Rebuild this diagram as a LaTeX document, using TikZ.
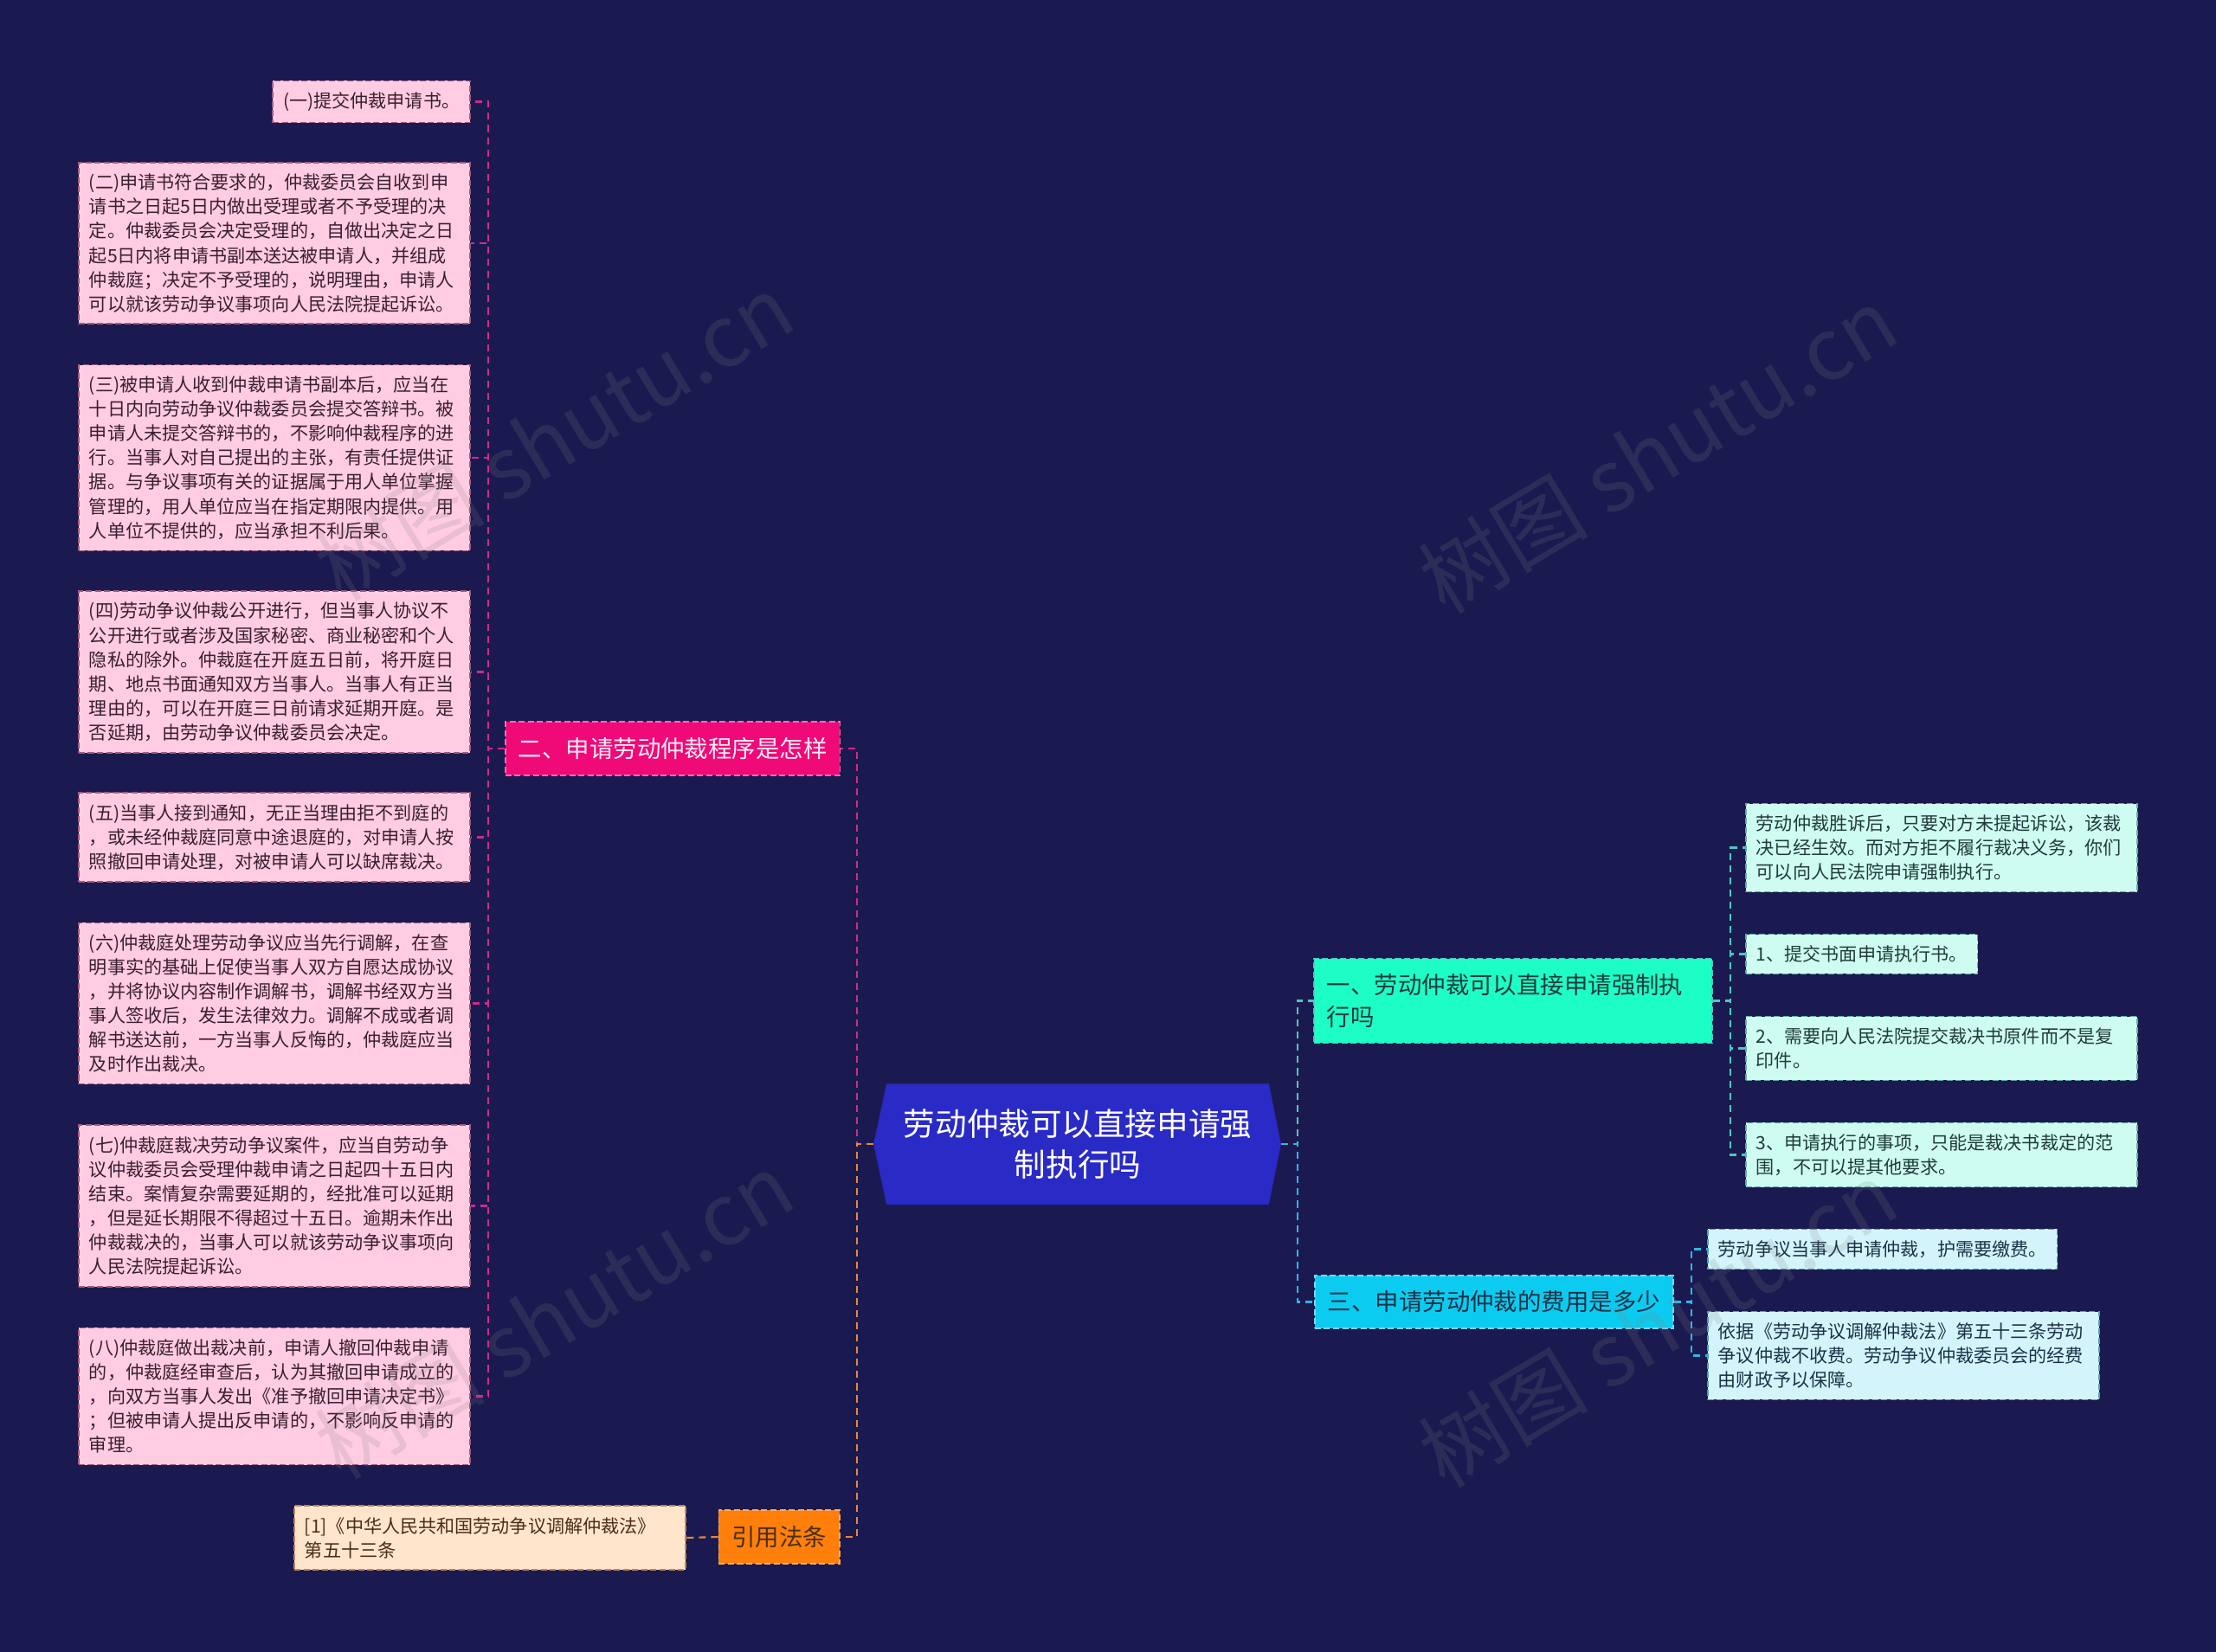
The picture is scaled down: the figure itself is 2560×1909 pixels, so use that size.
\documentclass[tikz,border=0pt]{standalone}
\usepackage{fontspec}
\usepackage{xcolor}
\usepackage{tikz}
\usetikzlibrary{positioning, backgrounds, calc}
\newfontfamily\cjk{Noto Sans CJK SC}
\definecolor{canvas}{HTML}{1B1A50}
\definecolor{topicblue}{HTML}{2A2AC6}
\definecolor{procpink}{HTML}{EF0A78}
\definecolor{procleaf}{HTML}{FFCCE2}
\definecolor{procline}{HTML}{D02A88}
\definecolor{procink}{HTML}{3A1F30}
\definecolor{execgreen}{HTML}{1DFDC6}
\definecolor{execleaf}{HTML}{CFFCF0}
\definecolor{execline}{HTML}{4CC9C0}
\definecolor{execink}{HTML}{1F3B3B}
\definecolor{feeblue}{HTML}{0BCCF0}
\definecolor{feeleaf}{HTML}{D4F4FC}
\definecolor{feeline}{HTML}{2DB6E8}
\definecolor{feeink}{HTML}{1B3248}
\definecolor{laworange}{HTML}{FF7F0A}
\definecolor{lawleaf}{HTML}{FFE5CC}
\definecolor{lawline}{HTML}{E8873A}
\definecolor{lawink}{HTML}{4A2E18}
\newcommand{\leaffont}{\cjk\fontsize{6pt}{8pt}\selectfont}
\newcommand{\branchfont}{\cjk\fontsize{7.8pt}{10.4pt}\selectfont}
\newcommand{\topicfont}{\cjk\fontsize{10.4pt}{13.2pt}\selectfont}

\begin{document}
\begin{tikzpicture}[
  x=0.01cm, y=-0.01cm,
  leaf/.style={rectangle, dashed, dash pattern=on 2pt off 1pt,
               line width=0.45pt, inner xsep=0.12cm, inner ysep=0.13cm,
               align=left, font=\leaffont},
  wide/.style={text width=4.28cm},
  procbox/.style={leaf, fill=procleaf, draw=procpink!30!gray, text=procink},
  execbox/.style={leaf, fill=execleaf, draw=execline!60!gray, text=execink},
  feebox/.style={leaf, fill=feeleaf, draw=feeline!60!gray, text=feeink},
  lawbox/.style={leaf, fill=lawleaf, draw=lawline!60!gray, text=lawink},
  branch/.style={rectangle, dashed, dash pattern=on 2pt off 1pt,
                 line width=0.5pt, inner xsep=0.15cm, inner ysep=0.18cm,
                 align=left, font=\branchfont},
  topic/.style={rectangle, minimum width=4.40cm, minimum height=1.38cm,
                align=center, font=\topicfont, text=white},
  link/.style={dash pattern=on 2.3pt off 1.7pt, line width=0.6pt},
  wmtext/.style={font=\cjk\fontsize{28pt}{28pt}\selectfont, text=gray,
                 opacity=0.18, rotate=31}
]
\useasboundingbox (0,0) rectangle (2560,1909);
\begin{scope}[on background layer]
  \fill[canvas] (0,0) rectangle (2560,1909);
\end{scope}
% centre topic
\node[topic] (topic) at (1245,1322) {劳动仲裁可以直接申请强\\制执行吗};
\begin{scope}[on background layer]
  \fill[topicblue] (topic.north west) -- (topic.north east)
    -- ([xshift=0.14cm]topic.east) -- (topic.south east)
    -- (topic.south west) -- ([xshift=-0.15cm]topic.west) -- cycle;
\end{scope}
\coordinate (topicL) at ([xshift=-0.15cm]topic.west);
\coordinate (topicR) at ([xshift=0.14cm]topic.east);
% branches
\node[branch, fill=execgreen, draw=execline, text=execink,
      text width=4.30cm, anchor=west] (exec) at (1517,1156.5)
      {一、劳动仲裁可以直接申请强制执\\行吗};
\node[branch, fill=procpink, draw=procpink!60!white, text=procleaf!40!white,
      anchor=west] (proc) at (583,865) {二、申请劳动仲裁程序是怎样};
\node[branch, fill=feeblue, draw=feeline!60!white, text=feeink,
      anchor=west] (fee) at (1518,1504.5) {三、申请劳动仲裁的费用是多少};
\node[branch, fill=laworange, draw=lawline!70!white, text=lawink,
      anchor=east] (law) at (971,1776) {引用法条};
% procedure leaves
\node[procbox, anchor=east] (p1) at (544,117.5) {(一)提交仲裁申请书。};
\node[procbox, wide, anchor=east] (p2) at (544,281)
  {(二)申请书符合要求的，仲裁委员会自收到申\\请书之日起5日内做出受理或者不予受理的决\\定。仲裁委员会决定受理的，自做出决定之日\\起5日内将申请书副本送达被申请人，并组成\\仲裁庭；决定不予受理的，说明理由，申请人\\可以就该劳动争议事项向人民法院提起诉讼。};
\node[procbox, wide, anchor=east] (p3) at (544,529)
  {(三)被申请人收到仲裁申请书副本后，应当在\\十日内向劳动争议仲裁委员会提交答辩书。被\\申请人未提交答辩书的，不影响仲裁程序的进\\行。当事人对自己提出的主张，有责任提供证\\据。与争议事项有关的证据属于用人单位掌握\\管理的，用人单位应当在指定期限内提供。用\\人单位不提供的，应当承担不利后果。};
\node[procbox, wide, anchor=east] (p4) at (544,776.5)
  {(四)劳动争议仲裁公开进行，但当事人协议不\\公开进行或者涉及国家秘密、商业秘密和个人\\隐私的除外。仲裁庭在开庭五日前，将开庭日\\期、地点书面通知双方当事人。当事人有正当\\理由的，可以在开庭三日前请求延期开庭。是\\否延期，由劳动争议仲裁委员会决定。};
\node[procbox, wide, anchor=east] (p5) at (544,967.5)
  {(五)当事人接到通知，无正当理由拒不到庭的\\，或未经仲裁庭同意中途退庭的，对申请人按\\照撤回申请处理，对被申请人可以缺席裁决。};
\node[procbox, wide, anchor=east] (p6) at (544,1159.5)
  {(六)仲裁庭处理劳动争议应当先行调解，在查\\明事实的基础上促使当事人双方自愿达成协议\\，并将协议内容制作调解书，调解书经双方当\\事人签收后，发生法律效力。调解不成或者调\\解书送达前，一方当事人反悔的，仲裁庭应当\\及时作出裁决。};
\node[procbox, wide, anchor=east] (p7) at (544,1393.5)
  {(七)仲裁庭裁决劳动争议案件，应当自劳动争\\议仲裁委员会受理仲裁申请之日起四十五日内\\结束。案情复杂需要延期的，经批准可以延期\\，但是延长期限不得超过十五日。逾期未作出\\仲裁裁决的，当事人可以就该劳动争议事项向\\人民法院提起诉讼。};
\node[procbox, wide, anchor=east] (p8) at (544,1613.5)
  {(八)仲裁庭做出裁决前，申请人撤回仲裁申请\\的，仲裁庭经审查后，认为其撤回申请成立的\\，向双方当事人发出《准予撤回申请决定书》\\；但被申请人提出反申请的，不影响反申请的\\审理。};
% execution leaves
\node[execbox, wide, anchor=west] (m1) at (2016,979.5)
  {劳动仲裁胜诉后，只要对方未提起诉讼，该裁\\决已经生效。而对方拒不履行裁决义务，你们\\可以向人民法院申请强制执行。};
\node[execbox, anchor=west] (m2) at (2016,1102.5) {1、提交书面申请执行书。};
\node[execbox, wide, anchor=west] (m3) at (2016,1211.5)
  {2、需要向人民法院提交裁决书原件而不是复\\印件。};
\node[execbox, wide, anchor=west] (m4) at (2016,1334.5)
  {3、申请执行的事项，只能是裁决书裁定的范\\围，不可以提其他要求。};
% fee leaves
\node[feebox, anchor=west] (f1) at (1972,1443.5) {劳动争议当事人申请仲裁，护需要缴费。};
\node[feebox, wide, anchor=west] (f2) at (1972,1566.5)
  {依据《劳动争议调解仲裁法》第五十三条劳动\\争议仲裁不收费。劳动争议仲裁委员会的经费\\由财政予以保障。};
% law leaf
\node[lawbox, wide, anchor=east] (ref) at (793,1777)
  {[1]《中华人民共和国劳动争议调解仲裁法》\\第五十三条};
% topic links
\draw[link, procline] (topicL) -- ++(-19,0) |- (proc.east);
\draw[link, lawline]  (topicL) -- ++(-19,0) |- (law.east);
\draw[link, execline] (topicR) -- ++(19,0) |- (exec.west);
\draw[link, feeline]  (topicR) -- ++(19,0) |- (fee.west);
% procedure links
\draw[link, procline] (proc.west) -- ++(-19,0) |- (p1.east);
\draw[link, procline] (proc.west) -- ++(-19,0) |- (p2.east);
\draw[link, procline] (proc.west) -- ++(-19,0) |- (p3.east);
\draw[link, procline] (proc.west) -- ++(-19,0) |- (p4.east);
\draw[link, procline] (proc.west) -- ++(-19,0) |- (p5.east);
\draw[link, procline] (proc.west) -- ++(-19,0) |- (p6.east);
\draw[link, procline] (proc.west) -- ++(-19,0) |- (p7.east);
\draw[link, procline] (proc.west) -- ++(-19,0) |- (p8.east);
% execution links
\draw[link, execline] (exec.east) -- ++(20,0) |- (m1.west);
\draw[link, execline] (exec.east) -- ++(20,0) |- (m2.west);
\draw[link, execline] (exec.east) -- ++(20,0) |- (m3.west);
\draw[link, execline] (exec.east) -- ++(20,0) |- (m4.west);
% fee links
\draw[link, feeline] (fee.east) -- ++(20,0) |- (f1.west);
\draw[link, feeline] (fee.east) -- ++(20,0) |- (f2.west);
% law link
\draw[link, lawline] (law.west) -- (ref.east);
% watermark
\node[wmtext] (wm1) at (640,505) {树图 shutu.cn};
\node[wmtext] (wm2) at (1915,520) {树图 shutu.cn};
\node[wmtext] (wm3) at (640,1520) {树图 shutu.cn};
\node[wmtext] (wm4) at (1915,1530) {树图 shutu.cn};
\end{tikzpicture}
\end{document}
